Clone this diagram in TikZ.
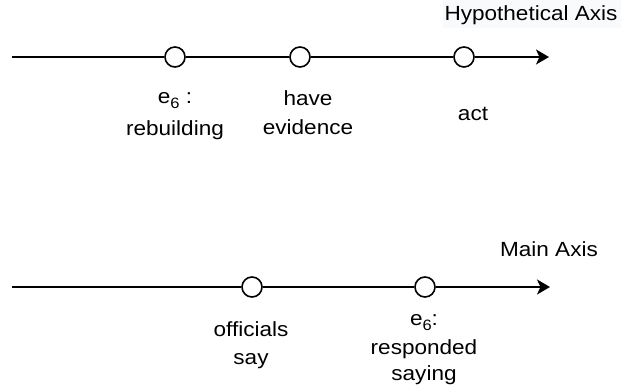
\documentclass[tikz,border=0pt]{standalone}
\usepackage{fontspec}
\setmainfont{Liberation Sans}[FakeStretch=1.1]
\usetikzlibrary{arrows.meta}
\definecolor{labelbg}{RGB}{249,250,251}
\newcommand{\evsub}[1]{\raisebox{-5pt}{\fontsize{15}{15}\selectfont #1}}
\begin{document}
\begin{tikzpicture}[x=1pt,y=-1pt,
  axis/.style={line width=1.7pt},
  axisarrow/.style={axis,-{Stealth[length=13pt,width=15pt,inset=3.5pt]}},
  event/.style={circle,draw,fill=white,line width=1.6pt,minimum size=20pt,inner sep=0pt},
  lbl/.style={font=\fontsize{20.5}{24}\selectfont,anchor=base,inner sep=0pt},
]
\useasboundingbox (0,0) rectangle (621,390);

% Hypothetical axis
\fill[labelbg] (443,0) rectangle (621,28);
\node[lbl] (hyptitle) at (531,21) {Hypothetical Axis};
\coordinate (hs) at (12,57);
\coordinate (he) at (549,57);
\node[event] (h1) at (175,57) {};
\node[event] (h2) at (300,57) {};
\node[event] (h3) at (464,57) {};
\draw[axis] (hs) -- (h1);
\draw[axis] (h1) -- (h2);
\draw[axis] (h2) -- (h3);
\draw[axisarrow] (h3) -- (he);

\node[lbl] (h1a) at (175,104) {e\evsub{6} :};
\node[lbl] (h1b) at (175,136) {rebuilding};
\node[lbl] (h2a) at (308,106) {have};
\node[lbl] (h2b) at (308,135) {evidence};
\node[lbl] (h3a) at (473,121) {act};

% Main axis
\node[lbl] (maintitle) at (549,256) {Main Axis};
\coordinate (ms) at (12,287);
\coordinate (me) at (550,287);
\node[event] (m1) at (252,287) {};
\node[event] (m2) at (425,287) {};
\draw[axis] (ms) -- (m1);
\draw[axis] (m1) -- (m2);
\draw[axisarrow] (m2) -- (me);

\node[lbl] (m1a) at (251,336) {officials};
\node[lbl] (m1b) at (251,364) {say};
\node[lbl] (m2a) at (424,325) {e\evsub{6}:};
\node[lbl] (m2b) at (424,354) {responded};
\node[lbl] (m2c) at (424,380) {saying};
\end{tikzpicture}
\end{document}
